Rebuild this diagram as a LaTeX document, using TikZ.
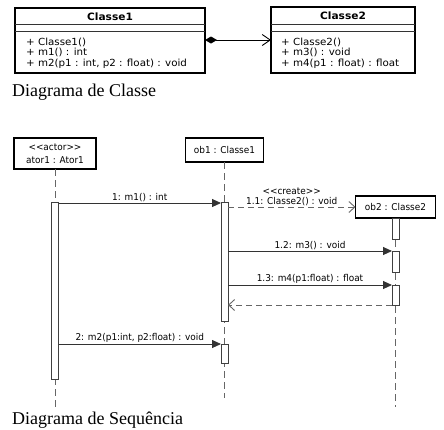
\documentclass[tikz,border=0pt]{standalone}
\usepackage{fontspec}
\setmainfont{Liberation Serif}
\newfontfamily\umlfont[FakeStretch=1.05]{DejaVu Sans}
\newfontfamily\seqfont[FakeStretch=0.95]{DejaVu Sans}
\usetikzlibrary{arrows.meta, positioning, calc}

\begin{document}
\begin{tikzpicture}[
  x=1pt, y=-1pt,
  classbox/.style={draw=black, line width=1.3pt, fill=white, inner sep=0pt, outer sep=0pt},
  sepline/.style={draw=black!80, line width=0.9pt},
  classname/.style={font=\umlfont\bfseries\fontsize{10.1}{11}\selectfont, text=black},
  op/.style={anchor=base west, inner sep=0pt, font=\umlfont\fontsize{9.8}{11}\selectfont, text=black},
  lifebox/.style={draw=black, line width=1.3pt, fill=white, inner sep=0pt, outer sep=0pt, align=center,
    font=\seqfont\fontsize{9.4}{13}\selectfont, text=black},
  actbar/.style={draw=black!75, line width=0.8pt, fill=white, minimum width=7pt, inner sep=0pt, outer sep=0pt},
  lifeline/.style={draw=black!60, line width=0.9pt, dash pattern=on 7pt off 4pt},
  msg/.style={draw=black!80, line width=0.9pt, -{Triangle[length=9pt, width=8pt]}},
  reply/.style={draw=black!60, line width=0.9pt, dash pattern=on 6pt off 4pt, -{Straight Barb[length=6pt, width=11pt]}},
  lbl/.style={font=\seqfont\fontsize{9.4}{11}\selectfont, text=black, inner sep=1pt},
  caption/.style={anchor=base west, inner sep=0pt, font=\fontsize{18}{20}\selectfont},
]
\useasboundingbox (0,0) rectangle (444,429);

% class diagram
\node[classbox, minimum width=190pt, minimum height=65pt] (classe1) at (110,40.5) {};
\node[classname] (c1name) at ([yshift=-8.5pt]classe1.north) {Classe1};
\draw[sepline] ([yshift=-16.5pt]classe1.north west) -- ([yshift=-16.5pt]classe1.north east);
\draw[sepline] ([yshift=-23pt]classe1.north west) -- ([yshift=-23pt]classe1.north east);
\node[op] (c1op1) at (26,45) {+ Classe1()};
\node[op] (c1op2) at (26,55.5) {+ m1() : int};
\node[op] (c1op3) at (26,66) {+ m2(p1 : int, p2 : float) : void};

\node[classbox, minimum width=144pt, minimum height=66pt] (classe2) at (343,40) {};
\node[classname] (c2name) at ([yshift=-8.5pt]classe2.north) {Classe2};
\draw[sepline] ([yshift=-17pt]classe2.north west) -- ([yshift=-17pt]classe2.north east);
\draw[sepline] ([yshift=-24pt]classe2.north west) -- ([yshift=-24pt]classe2.north east);
\node[op] (c2op1) at (281,45) {+ Classe2()};
\node[op] (c2op2) at (281,55.5) {+ m3() : void};
\node[op] (c2op3) at (281,66) {+ m4(p1 : float) : float};

\draw[draw=black, line width=0.9pt, {Diamond[length=12pt, width=7pt]}-{Straight Barb[length=8pt, width=11pt]}]
  (classe1.east |- 0,40) -- (classe2.west |- 0,40);

\node[caption] (capclasse) at (12,96) {Diagrama de Classe};

% sequence diagram
\node[lifebox, minimum width=82pt, minimum height=31pt] (ator1) at (55,153.5)
  {\textless\textless actor\textgreater\textgreater\\ator1 : Ator1};
\node[lifebox, minimum width=78pt, minimum height=24pt] (ob1) at (224.5,150) {ob1 : Classe1};
\node[lifebox, minimum width=80pt, minimum height=22pt] (ob2) at (395.5,207) {ob2 : Classe2};

\coordinate (ator1end) at (55,407);
\coordinate (ob1end) at (224.5,398);
\coordinate (ob2end) at (395.5,407);
\draw[lifeline] (ator1.south) -- (ator1end);
\draw[lifeline] (ob1.south) -- (ob1end);
\draw[lifeline] (ob2.south) -- (ob2end);

\node[actbar, minimum height=177pt] (barA) at (55,290.5) {};
\node[actbar, minimum height=119pt] (barB1) at (224.5,261.5) {};
\node[actbar, minimum height=19pt] (barB2) at (224.5,353.5) {};
\node[actbar, minimum height=21pt] (barC1) at (395.5,228.5) {};
\node[actbar, minimum height=21pt] (barC2) at (395.5,261.5) {};
\node[actbar, minimum height=20pt] (barC3) at (395.5,295) {};

\draw[msg] ([yshift=-1pt]barA.east |- barB1.north) -- ([yshift=-1pt]barB1.north west)
  node[lbl, midway, above] {1: m1() : int};
\draw[reply] (barB1.east |- ob2.west) -- (ob2.west)
  node[lbl, midway, above, align=center] {\textless\textless create\textgreater\textgreater\\[-1pt]1.1: Classe2() : void};
\draw[msg] (barB1.east |- barC2.north) -- (barC2.north west)
  node[lbl, midway, above] {1.2: m3() : void};
\draw[msg] (barB1.east |- barC3.north) -- (barC3.north west)
  node[lbl, midway, above] {1.3: m4(p1:float) : float};
\draw[reply] (barC3.south west) -- (barB1.east |- barC3.south);
\draw[msg] (barA.east |- barB2.north) -- (barB2.north west)
  node[lbl, midway, above] {2: m2(p1:int, p2:float) : void};

\node[caption] (capseq) at (12,424) {Diagrama de Sequência};
\end{tikzpicture}
\end{document}
